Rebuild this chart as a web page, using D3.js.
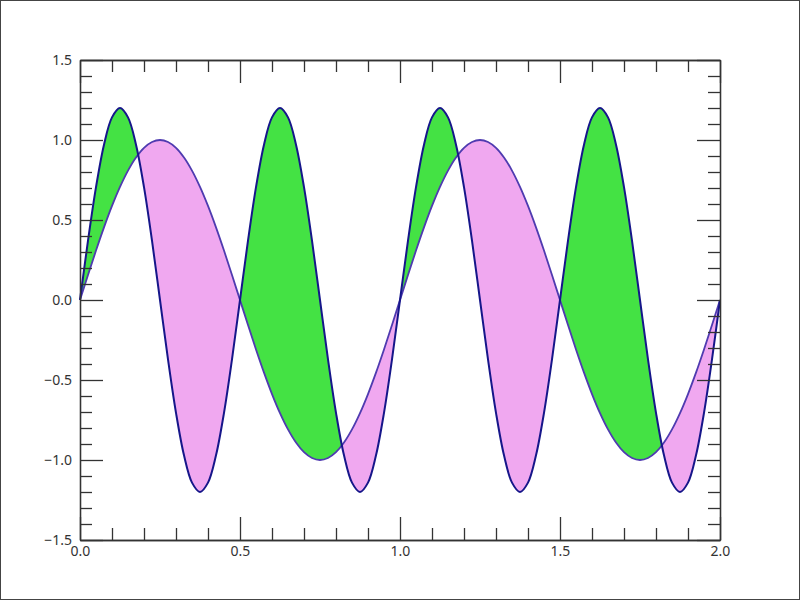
<!DOCTYPE html>
<html><head><meta charset="utf-8">
<script src="https://cdn.jsdelivr.net/npm/d3@7"></script>
<style>
html,body{margin:0;padding:0;background:#fff;}
svg{display:block;}
.tick text{font-family:"Noto Sans",sans-serif;font-size:14px;fill:#333;}
</style></head>
<body>
<script>
const xs = [0,0.025,0.05,0.075,0.1,0.125,0.15,0.175,0.2,0.225,0.25,0.275,0.3,0.325,0.35,0.375,0.4,0.425,0.45,0.475,
0.5,0.525,0.55,0.575,0.6,0.625,0.65,0.675,0.7,0.725,0.75,0.775,0.8,0.825,0.85,0.875,0.9,0.925,0.95,0.975,
1,1.025,1.05,1.075,1.1,1.125,1.15,1.175,1.2,1.225,1.25,1.275,1.3,1.325,1.35,1.375,1.4,1.425,1.45,1.475,
1.5,1.525,1.55,1.575,1.6,1.625,1.65,1.675,1.7,1.725,1.75,1.775,1.8,1.825,1.85,1.875,1.9,1.925,1.95,1.975,2];
const y1 = [0,0.1564,0.309,0.454,0.5878,0.7071,0.809,0.891,0.9511,0.9877,1,0.9877,0.9511,0.891,0.809,0.7071,0.5878,0.454,0.309,0.1564,
0,-0.1564,-0.309,-0.454,-0.5878,-0.7071,-0.809,-0.891,-0.9511,-0.9877,-1,-0.9877,-0.9511,-0.891,-0.809,-0.7071,-0.5878,-0.454,-0.309,-0.1564,
0,0.1564,0.309,0.454,0.5878,0.7071,0.809,0.891,0.9511,0.9877,1,0.9877,0.9511,0.891,0.809,0.7071,0.5878,0.454,0.309,0.1564,
0,-0.1564,-0.309,-0.454,-0.5878,-0.7071,-0.809,-0.891,-0.9511,-0.9877,-1,-0.9877,-0.9511,-0.891,-0.809,-0.7071,-0.5878,-0.454,-0.309,-0.1564,0];
const y2 = [0,0.3708,0.7053,0.9708,1.1413,1.2,1.1413,0.9708,0.7053,0.3708,0,-0.3708,-0.7053,-0.9708,-1.1413,-1.2,-1.1413,-0.9708,-0.7053,-0.3708,
0,0.3708,0.7053,0.9708,1.1413,1.2,1.1413,0.9708,0.7053,0.3708,0,-0.3708,-0.7053,-0.9708,-1.1413,-1.2,-1.1413,-0.9708,-0.7053,-0.3708,
0,0.3708,0.7053,0.9708,1.1413,1.2,1.1413,0.9708,0.7053,0.3708,0,-0.3708,-0.7053,-0.9708,-1.1413,-1.2,-1.1413,-0.9708,-0.7053,-0.3708,
0,0.3708,0.7053,0.9708,1.1413,1.2,1.1413,0.9708,0.7053,0.3708,0,-0.3708,-0.7053,-0.9708,-1.1413,-1.2,-1.1413,-0.9708,-0.7053,-0.3708,0];
const xMajorTicks = [0,0.5,1,1.5,2];
const xMinorTicks = [0.1,0.2,0.3,0.4,0.6,0.7,0.8,0.9,1.1,1.2,1.3,1.4,1.6,1.7,1.8,1.9];
const yMajorTicks = [-1.5,-1,-0.5,0,0.5,1,1.5];
const yMinorTicks = [-1.4,-1.3,-1.2,-1.1,-0.9,-0.8,-0.7,-0.6,-0.4,-0.3,-0.2,-0.1,0.1,0.2,0.3,0.4,0.6,0.7,0.8,0.9,1.1,1.2,1.3,1.4];

const W=800,H=600, L=80,R=720,T=60,B=540;
const data = xs.map((x,i)=>({x, a:y1[i], b:y2[i]}));
const svg = d3.select("body").append("svg").attr("width",W).attr("height",H);
svg.append("rect").attr("x",0.5).attr("y",0.5).attr("width",W-1).attr("height",H-1)
  .attr("fill","#fff").attr("stroke","#444").attr("stroke-width",1);

const x = d3.scaleLinear().domain([0,2]).range([L,R]);
const y = d3.scaleLinear().domain([-1.5,1.5]).range([B,T]);
const curve = d3.curveCatmullRom;

const defs = svg.append("defs");
defs.append("clipPath").attr("id","above").append("path")
  .attr("d", d3.area().x(d=>x(d.x)).y0(T-10).y1(d=>y(d.a)).curve(curve)(data));
defs.append("clipPath").attr("id","below").append("path")
  .attr("d", d3.area().x(d=>x(d.x)).y0(B+10).y1(d=>y(d.a)).curve(curve)(data));

const between = d3.area().x(d=>x(d.x)).y0(d=>y(d.a)).y1(d=>y(d.b)).curve(curve);
svg.append("path").attr("d",between(data)).attr("fill","#44e244").attr("clip-path","url(#above)");
svg.append("path").attr("d",between(data)).attr("fill","#f0a8f0").attr("clip-path","url(#below)");

svg.append("path").attr("d",d3.line().x(d=>x(d.x)).y(d=>y(d.a)).curve(curve)(data))
  .attr("fill","none").attr("stroke","#4f3bb0").attr("stroke-width",1.8);
svg.append("path").attr("d",d3.line().x(d=>x(d.x)).y(d=>y(d.b)).curve(curve)(data))
  .attr("fill","none").attr("stroke","#16168a").attr("stroke-width",2);

function style(g){
  g.selectAll(".domain").attr("stroke","#333").attr("stroke-width",1.3);
  g.selectAll(".tick line").attr("stroke","#333").attr("stroke-width",1.3);
}
const fmt = d3.format(".1f");
// bottom
svg.append("g").attr("transform",`translate(0,${B})`)
  .call(d3.axisBottom(x).tickValues(xMajorTicks).tickSizeInner(-23).tickSizeOuter(0).tickPadding(6).tickFormat(fmt)).call(style);
svg.append("g").attr("transform",`translate(0,${B})`)
  .call(d3.axisBottom(x).tickValues(xMinorTicks).tickSizeInner(-12).tickSizeOuter(0).tickFormat("")).call(style);
// top
svg.append("g").attr("transform",`translate(0,${T})`)
  .call(d3.axisTop(x).tickValues(xMajorTicks).tickSizeInner(-23).tickSizeOuter(0).tickFormat("")).call(style);
svg.append("g").attr("transform",`translate(0,${T})`)
  .call(d3.axisTop(x).tickValues(xMinorTicks).tickSizeInner(-12).tickSizeOuter(0).tickFormat("")).call(style);
// left
svg.append("g").attr("transform",`translate(${L},0)`)
  .call(d3.axisLeft(y).tickValues(yMajorTicks).tickSizeInner(-23).tickSizeOuter(0).tickPadding(8).tickFormat(fmt)).call(style);
svg.append("g").attr("transform",`translate(${L},0)`)
  .call(d3.axisLeft(y).tickValues(yMinorTicks).tickSizeInner(-12).tickSizeOuter(0).tickFormat("")).call(style);
// right
svg.append("g").attr("transform",`translate(${R},0)`)
  .call(d3.axisRight(y).tickValues(yMajorTicks).tickSizeInner(-23).tickSizeOuter(0).tickFormat("")).call(style);
svg.append("g").attr("transform",`translate(${R},0)`)
  .call(d3.axisRight(y).tickValues(yMinorTicks).tickSizeInner(-12).tickSizeOuter(0).tickFormat("")).call(style);
</script>
</body></html>
